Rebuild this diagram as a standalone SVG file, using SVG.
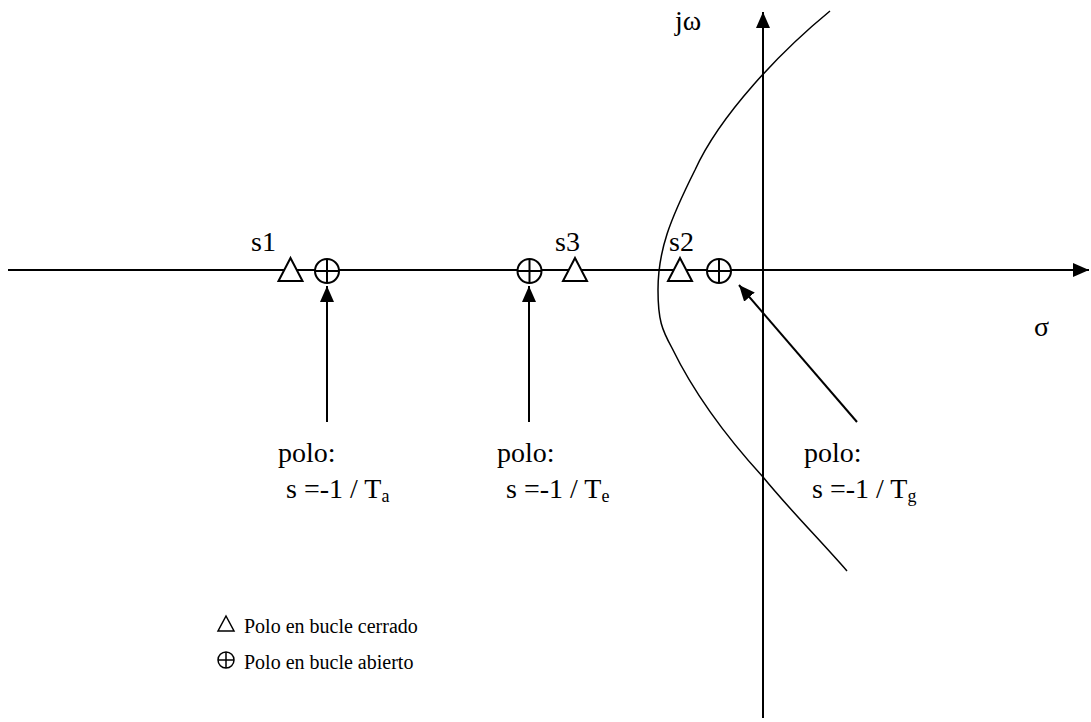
<svg xmlns="http://www.w3.org/2000/svg" width="1091" height="722" viewBox="0 0 1091 722">
<style>
.ax{stroke:#000;stroke-width:2;fill:none}
.cv{stroke:#000;stroke-width:1.5;fill:none}
.tri{stroke:#000;stroke-width:2;fill:#fff}
.pl{stroke:#000;stroke-width:2;fill:#fff}
text{font-family:'Liberation Serif','Times New Roman',Times,'DejaVu Serif',serif;font-size:28px;fill:#000}
.sub{font-size:18px}
.lg{font-size:20px}
</style>
<defs>
<marker id="ah" viewBox="0 0 16 14" refX="16" refY="7" markerWidth="16" markerHeight="14" markerUnits="userSpaceOnUse" orient="auto">
<path d="M0,0 L16,7 L0,14 Z" fill="#000"/>
</marker>
<g id="tri"><path class="tri" d="M0,-12 L12,11 L-12,11 Z"/></g>
<g id="op"><circle class="pl" r="12"/><path class="ax" d="M-12,0 H12 M0,-12 V12"/></g>
</defs>
<g id="axes">
<line class="ax" x1="8" y1="270" x2="1089" y2="270" marker-end="url(#ah)"/>
<line class="ax" x1="763" y1="718" x2="763" y2="12" marker-end="url(#ah)"/>
</g>
<g id="locus">
<path class="cv" d="M830,11 C780,52 720,115 695,170 C670,220 658,250 658,290 C658,320 662,330 672,348 C690,385 720,430 763,477 C790,510 820,540 847,571"/>
</g>
<g id="p-s1"><use href="#tri" x="290.5" y="270"/></g>
<g id="p-a"><use href="#op" x="327" y="271"/></g>
<g id="p-e"><use href="#op" x="529.5" y="271"/></g>
<g id="p-s3"><use href="#tri" x="575" y="270"/></g>
<g id="p-s2"><use href="#tri" x="680" y="270"/></g>
<g id="p-g"><use href="#op" x="719" y="271"/></g>
<g id="connectors">
<line class="ax" x1="327" y1="422" x2="327" y2="286" marker-end="url(#ah)"/>
<line class="ax" x1="529" y1="422" x2="529" y2="286" marker-end="url(#ah)"/>
<line class="ax" x1="857" y1="422" x2="739" y2="285" marker-end="url(#ah)"/>
</g>
<g id="labels">
<text x="675" y="30">jω</text>
<text x="251" y="251">s1</text>
<text x="555" y="251">s3</text>
<text x="669" y="251">s2</text>
<text x="1034" y="336">σ</text>
</g>
<g id="lbl-a">
<text x="278" y="462">polo:</text>
<text x="286" y="498">s =-1 / T<tspan class="sub" dy="4">a</tspan></text>
</g>
<g id="lbl-e">
<text x="497" y="462">polo:</text>
<text x="506" y="498">s =-1 / T<tspan class="sub" dy="4">e</tspan></text>
</g>
<g id="lbl-g">
<text x="804" y="462">polo:</text>
<text x="812" y="498">s =-1 / T<tspan class="sub" dy="4">g</tspan></text>
</g>
<g id="legend">
<path class="cv" d="M226,616 L234,631 L218,631 Z"/>
<text class="lg" x="244" y="633">Polo en bucle cerrado</text>
<circle class="cv" cx="226" cy="660" r="8"/>
<path class="cv" d="M218,660 H234 M226,652 V668"/>
<text class="lg" x="244" y="669">Polo en bucle abierto</text>
</g>
</svg>
